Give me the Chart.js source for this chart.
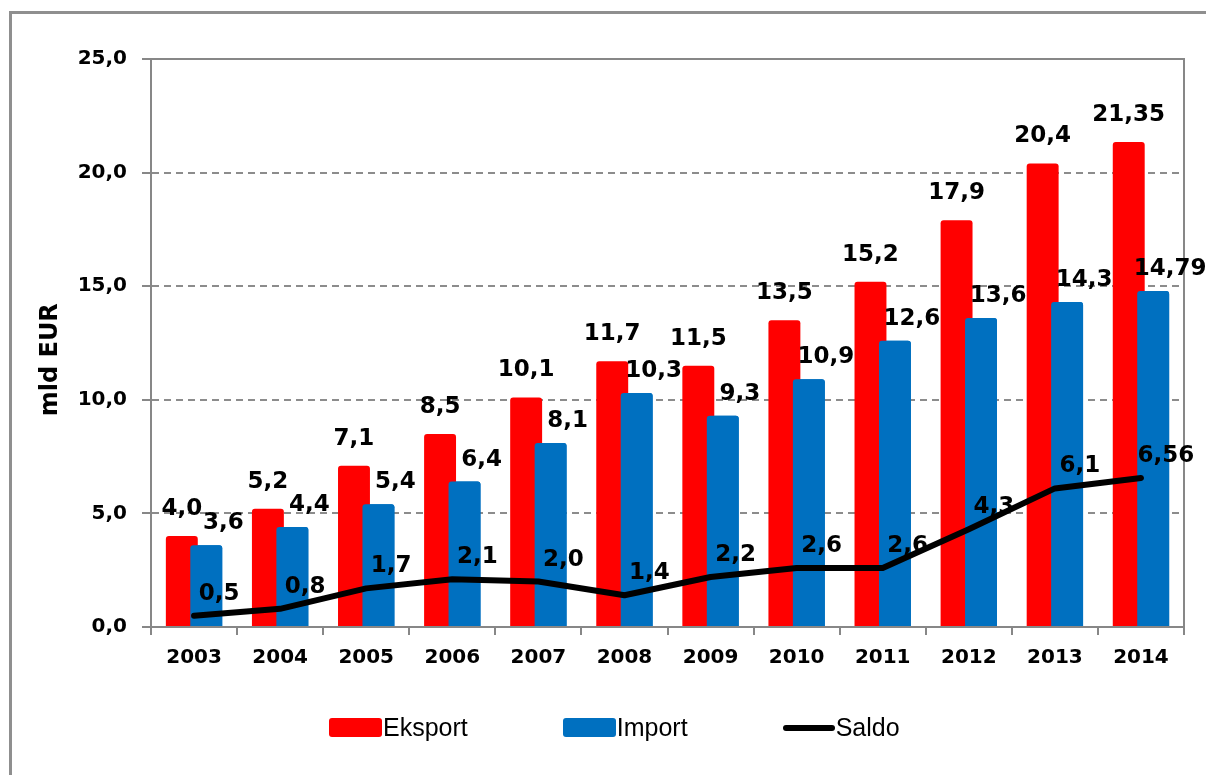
<!DOCTYPE html>
<html>
<head>
<meta charset="utf-8">
<title>Eksport, import i saldo</title>
<script src="https://cdn.jsdelivr.net/npm/chart.js@4.4.1/dist/chart.umd.min.js"></script>
<style>
  html, body { margin: 0; padding: 0; background: #fff; overflow: hidden; }
  #frame { position: absolute; left: 9px; top: 11px; width: 1400px; height: 1000px; border: 3px solid #8f8f8f; }
  #wrap { position: absolute; left: 0; top: 0; width: 1206px; height: 775px; }
  #legend { position: absolute; left: 329px; top: 715px; display: flex; gap: 95px; font: 25px "Liberation Sans"; line-height: 25px; color: #000; }
  #legend .item { display: flex; align-items: center; gap: 1px; }
  #legend .swatch { width: 53px; height: 19px; border-radius: 3px; }
  #legend .swatch.line { width: 52px; height: 6px; }
</style>
</head>
<body>
<div id="frame"></div>
<div id="wrap"><canvas id="tradeChart"></canvas></div>
<div id="legend"></div>
<script>
const years = ['2003', '2004', '2005', '2006', '2007', '2008', '2009', '2010', '2011', '2012', '2013', '2014'];
const eksport = [4.0, 5.2, 7.1, 8.5, 10.1, 11.7, 11.5, 13.5, 15.2, 17.9, 20.4, 21.35];
const importVals = [3.6, 4.4, 5.4, 6.4, 8.1, 10.3, 9.3, 10.9, 12.6, 13.6, 14.3, 14.79];
const saldo = [0.5, 0.8, 1.7, 2.1, 2.0, 1.4, 2.2, 2.6, 2.6, 4.3, 6.1, 6.56];
const yMin = 0;
const yMax = 25;
const yStep = 5;

const AXIS_GRAY = '#878787';

function fmt(v, digits) {
    return v.toFixed(digits).replace('.', ',');
}

// one decimal unless the value really has two
function labelText(v) {
    return fmt(v, Math.round(v * 100) % 10 ? 2 : 1);
}

// value labels next to bars and line points (offsets per dataset)
const valueLabels = {
    id: 'valueLabels',
    afterDatasetsDraw(chart, args, opts) {
        const ctx = chart.ctx;
        ctx.save();
        ctx.font = 'bold 23px "DejaVu Sans"';
        ctx.fillStyle = '#000';
        ctx.textAlign = 'center';
        ctx.textBaseline = 'middle';
        chart.data.datasets.forEach((ds, i) => {
            const shift = opts.offsets[i];
            chart.getDatasetMeta(i).data.forEach((el, j) => {
                ctx.fillText(labelText(ds.data[j]), el.x + shift[0], el.y + shift[1]);
            });
        });
        ctx.restore();
    }
};

// solid top and right edge of the plot area
const plotFrame = {
    id: 'plotFrame',
    beforeDatasetsDraw(chart) {
        const { ctx, chartArea: a } = chart;
        ctx.save();
        ctx.strokeStyle = AXIS_GRAY;
        ctx.lineWidth = 2;
        ctx.beginPath();
        ctx.moveTo(a.left, a.top);
        ctx.lineTo(a.right, a.top);
        ctx.lineTo(a.right, a.bottom);
        ctx.stroke();
        ctx.restore();
    }
};

// Import bars overlap Eksport bars, so paint them again right after Eksport
const importOnTop = {
    id: 'importOnTop',
    afterDatasetDraw(chart, args) {
        if (args.index === 0) chart.getDatasetMeta(1).controller.draw();
    }
};

Chart.defaults.font.family = '"DejaVu Sans"';
Chart.defaults.color = '#000';

const barShape = { barPercentage: 1.306, categoryPercentage: 0.568, borderRadius: 3 };

const chart = new Chart(document.getElementById('tradeChart'), {
    type: 'bar',
    data: {
        labels: years,
        datasets: [
            { type: 'bar', label: 'Eksport', data: eksport, backgroundColor: '#ff0000', order: 2, ...barShape },
            { type: 'bar', label: 'Import', data: importVals, backgroundColor: '#0070c0', order: 3, ...barShape },
            {
                type: 'line',
                label: 'Saldo',
                data: saldo,
                borderColor: '#000',
                backgroundColor: '#000',
                borderWidth: 6,
                pointRadius: 0,
                tension: 0,
                borderJoinStyle: 'round',
                borderCapStyle: 'round',
                order: 1
            }
        ]
    },
    options: {
        responsive: true,
        maintainAspectRatio: false,
        animation: false,
        layout: { padding: { top: 59, right: 22, bottom: 98, left: 0 } },
        scales: {
            x: {
                offset: true,
                grid: { drawOnChartArea: false, color: AXIS_GRAY, lineWidth: 2, tickLength: 8, offset: true },
                border: { color: AXIS_GRAY, width: 2 },
                ticks: { padding: 11, font: { weight: 'bold', size: 20 } },
                afterFit(scale) { scale.height = 50; }
            },
            y: {
                min: yMin,
                max: yMax,
                ticks: {
                    stepSize: yStep,
                    padding: 15,
                    font: { weight: 'bold', size: 20 },
                    callback: v => fmt(v, 1)
                },
                grid: {
                    color: c => (c.tick && (c.tick.value === yMin || c.tick.value === yMax)) ? 'rgba(0,0,0,0)' : '#8c8c8c',
                    lineWidth: 2,
                    tickLength: 9,
                    tickColor: AXIS_GRAY,
                    tickWidth: 2
                },
                border: { color: AXIS_GRAY, width: 2, dash: [7, 5] },
                title: {
                    display: true,
                    text: 'mld EUR    ',
                    font: { weight: 'bold', size: 24 },
                    padding: { top: 36, bottom: 0 }
                },
                afterFit(scale) { scale.width = 151; }
            }
        },
        plugins: {
            tooltip: { enabled: false },
            legend: { display: false },
            valueLabels: { offsets: [[0, -27], [17, -22], [25, -22]] }
        }
    },
    plugins: [plotFrame, importOnTop, valueLabels]
});

// legend built from the datasets, below the canvas
const legendEl = document.getElementById('legend');
chart.data.datasets.forEach(ds => {
    const isLine = ds.type === 'line';
    const item = document.createElement('div');
    item.className = 'item';
    item.innerHTML = `
        <span class="swatch${isLine ? ' line' : ''}" style="background:${isLine ? ds.borderColor : ds.backgroundColor}"></span>
        <span>${ds.label}</span>
    `;
    legendEl.appendChild(item);
});
</script>
</body>
</html>
